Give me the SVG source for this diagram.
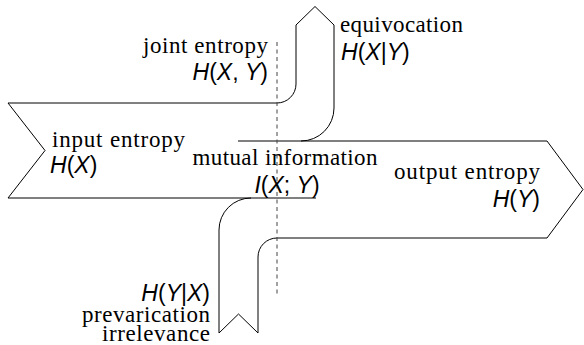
<svg xmlns="http://www.w3.org/2000/svg" width="584" height="345" viewBox="0 0 584 345">
  <style>
    .edge { fill: none; stroke: #000; stroke-width: 1; stroke-linejoin: miter; }
    .cut { fill: none; stroke: #444; stroke-width: 1; stroke-dasharray: 4 3.5; }
    .t { font-family: "Liberation Serif", "Times New Roman", serif; font-size: 23px; fill: #000; }
    .m { font-family: "Liberation Sans", Arial, sans-serif; font-size: 23px; fill: #000; }
    .i { font-style: italic; }
    .end { text-anchor: end; }
    .mid { text-anchor: middle; }
  </style>

  <g id="connectors">
    <!-- input band splitting off the equivocation branch -->
    <path class="edge" d="M316,198 L8,198 L45,150.5 L8,103 L277,103 A19,19 0 0 0 296,84 L296,25 L315,6.5 L334,25 L334,108 A33,33 0 0 1 301,141"/>
    <!-- output band fed by the prevarication branch -->
    <path class="edge" d="M238,141 L547,141 L583,189.5 L547,238 L277,238 A19,19 0 0 0 258,257 L258,333 L238.5,314 L219,333 L219,230 A32,32 0 0 1 251,198"/>
    <!-- channel boundary -->
    <line class="cut" x1="277" y1="42" x2="277" y2="294"/>
  </g>

  <g id="joint-entropy">
    <text class="t end" x="268" y="53" textLength="125">joint entropy</text>
    <text class="m end" x="268" y="80"><tspan class="i">H</tspan>(<tspan class="i">X</tspan>, <tspan class="i">Y</tspan>)</text>
  </g>

  <g id="equivocation">
    <text class="t" x="340" y="32" textLength="123">equivocation</text>
    <text class="m" x="341" y="60"><tspan class="i">H</tspan>(<tspan class="i">X</tspan>|<tspan class="i">Y</tspan>)</text>
  </g>

  <g id="input-entropy">
    <text class="t" x="52" y="147" textLength="133">input entropy</text>
    <text class="m" x="50" y="173"><tspan class="i">H</tspan>(<tspan class="i">X</tspan>)</text>
  </g>

  <g id="mutual-information">
    <text class="t mid" x="285" y="165" textLength="185">mutual information</text>
    <text class="m mid" x="287" y="193"><tspan class="i">I</tspan>(<tspan class="i">X</tspan>; <tspan class="i">Y</tspan>)</text>
  </g>

  <g id="output-entropy">
    <text class="t end" x="540" y="179" textLength="146">output entropy</text>
    <text class="m end" x="540" y="207"><tspan class="i">H</tspan>(<tspan class="i">Y</tspan>)</text>
  </g>

  <g id="prevarication">
    <text class="m end" x="210" y="301"><tspan class="i">H</tspan>(<tspan class="i">Y</tspan>|<tspan class="i">X</tspan>)</text>
    <text class="t end" x="210" y="322" textLength="128">prevarication</text>
    <text class="t end" x="210" y="341" textLength="108">irrelevance</text>
  </g>
</svg>
